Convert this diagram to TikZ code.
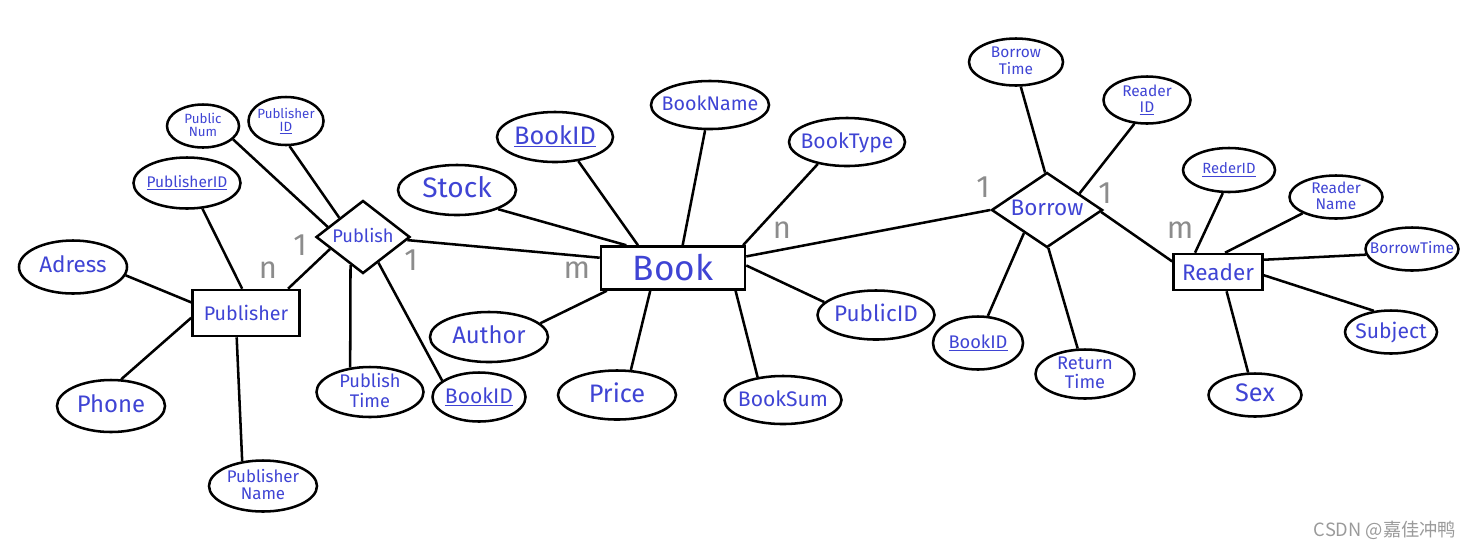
\documentclass[tikz,border=0pt]{standalone}
\usepackage{fontspec}
\setmainfont{Fira Sans}
\newfontfamily\cjkfont{Noto Sans CJK SC}
\usetikzlibrary{shapes.geometric}
\definecolor{ink}{HTML}{3F44D4}
\definecolor{card}{HTML}{8C8C8C}
\definecolor{mark}{HTML}{9A9A9A}
% handwritten label: zero-sized box, so the outline keeps its own size
\newcommand{\hw}[1]{\makebox[0pt]{\smash{\raisebox{-0.3em}{\begin{tabular}{@{}c@{}}#1\end{tabular}}}}}

\begin{document}
\begin{tikzpicture}[x=0.025cm, y=-0.025cm,
  sz/.style 2 args={minimum width=#1*0.25mm, minimum height=#2*0.25mm},
  fs/.style={font=\fontsize{#1pt}{#1pt}\selectfont},
  entity/.style={draw, line width=1.8pt, rectangle, inner sep=0pt, text=ink},
  relation/.style={draw, line width=1.8pt, diamond, inner sep=0pt, text=ink},
  attr/.style={draw, line width=1.8pt, ellipse, inner sep=0pt, text=ink},
  cardlbl/.style={text=card, fs=22},
  link/.style={line width=1.8pt}]
\useasboundingbox (0,0) rectangle (1468,549);

% entities and relations
\node[entity, sz={107}{46}, fs=14] (publisher) at (246,313) {Publisher};
\node[entity, sz={144}{43}, fs=25] (book) at (673,268) {Book};
\node[entity, sz={89}{36}, fs=16] (reader) at (1218,272) {Reader};
\node[relation, sz={94}{73}, fs=13] (publish) at (363,237) {\hw{Publish}};
\node[relation, sz={111}{75}, fs=16] (borrow) at (1047,210) {\hw{Borrow}};

% attributes of publisher / publish
\node[attr, sz={72}{43}, fs=9.5] (pubnum) at (203,126) {\hw{Public\\Num}};
\node[attr, sz={75}{48}, fs=9.5] (pubid) at (286,121) {\hw{Publisher\\\underline{ID}}};
\node[attr, sz={107}{51}, fs=11] (publisherid) at (187,183) {\hw{\underline{PublisherID}}};
\node[attr, sz={108}{53}, fs=16] (adress) at (73,267) {\hw{Adress}};
\node[attr, sz={108}{52}, fs=17] (phone) at (111,406) {\hw{Phone}};
\node[attr, sz={108}{51}, fs=12] (pubname) at (263,486) {\hw{Publisher\\Name}};
\node[attr, sz={107}{50}, fs=13] (pubtime) at (370,392) {\hw{Publish\\Time}};
\node[attr, sz={93}{49}, fs=15] (pbookid) at (479,397) {\hw{\underline{BookID}}};

% attributes of book
\node[attr, sz={118}{50}, fs=20] (stock) at (457,190) {\hw{Stock}};
\node[attr, sz={116}{50}, fs=18] (bookid) at (555,137) {\hw{\underline{BookID}}};
\node[attr, sz={118}{48}, fs=14] (bookname) at (710,105) {\hw{BookName}};
\node[attr, sz={116}{48}, fs=15] (booktype) at (847,142) {\hw{BookType}};
\node[attr, sz={118}{50}, fs=17] (author) at (489,337) {\hw{Author}};
\node[attr, sz={118}{49}, fs=18] (price) at (617,395) {\hw{Price}};
\node[attr, sz={117}{48}, fs=15] (booksum) at (783,400) {\hw{BookSum}};
\node[attr, sz={117}{49}, fs=16] (publicid) at (876,315) {\hw{PublicID}};

% attributes of borrow / reader
\node[attr, sz={94}{47}, fs=11] (borrowtime) at (1016,62) {\hw{Borrow\\Time}};
\node[attr, sz={87}{47}, fs=11] (readerid) at (1147,100) {\hw{Reader\\\underline{ID}}};
\node[attr, sz={90}{53}, fs=13] (bbookid) at (978,343) {\hw{\underline{BookID}}};
\node[attr, sz={99}{49}, fs=13] (returntime) at (1085,374) {\hw{Return\\Time}};
\node[attr, sz={92}{44}, fs=10.5] (rederid) at (1229,170) {\hw{\underline{RederID}}};
\node[attr, sz={93}{43}, fs=11] (readername) at (1336,197) {\hw{Reader\\Name}};
\node[attr, sz={93}{43}, fs=11] (rborrowtime) at (1412,249) {\hw{BorrowTime}};
\node[attr, sz={92}{43}, fs=15] (subject) at (1391,332) {\hw{Subject}};
\node[attr, sz={93}{43}, fs=18] (sex) at (1255,395) {\hw{Sex}};

% connectors (node/angle -- node/angle)
\foreach \a/\p/\b/\q in {publisher/169/adress/351, publisher/185/phone/69,
    publisher/249/pubname/130, publisher/99/publisherid/301, publisher/30/publish/200,
    publish/164/pubnum/336, publish/141/pubid/278, publish/246/pubtime/129,
    publish/301/pbookid/156, publish/356/book/172,
    book/154/stock/335, book/147/bookid/314, book/67/bookname/259,
    book/18/booktype/217, book/199/author/15, book/225/price/61,
    book/340/booksum/138, book/2/publicid/166, book/9/borrow/180,
    borrow/93/borrowtime/281, borrow/27/readerid/242, borrow/225/bbookid/70,
    borrow/272/returntime/106, borrow/358/reader/167,
    reader/140/rederid/255, reader/70/readername/206, reader/15/rborrowtime/187,
    reader/356/subject/129, reader/294/sex/107}
  \draw[link] (\a.\p) -- (\b.\q);

% cardinalities
\node[cardlbl] (c1) at (268,270) {n};
\node[cardlbl] (c2) at (300,245) {1};
\node[cardlbl] (c3) at (411,260) {1};
\node[cardlbl] (c4) at (577,270) {m};
\node[cardlbl] (c5) at (782,230) {n};
\node[cardlbl] (c6) at (983,187) {1};
\node[cardlbl] (c7) at (1105,193) {1};
\node[cardlbl] (c8) at (1180,230) {m};

\node[text=mark, font=\cjkfont\fontsize{13pt}{13pt}\selectfont] (wm) at (1385,530) {CSDN @嘉佳冲鸭};
\end{tikzpicture}
\end{document}
